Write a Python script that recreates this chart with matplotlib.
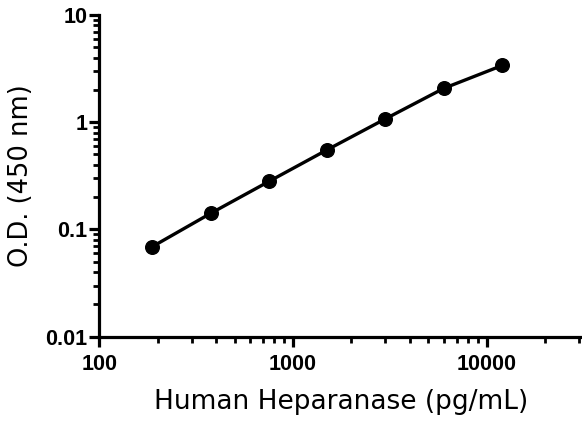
import matplotlib
matplotlib.use("Agg")
import matplotlib.pyplot as plt
from matplotlib.ticker import LogLocator, FixedLocator, NullFormatter, FixedFormatter

conc = [187.5, 375, 750, 1500, 3000, 6000, 12000]
od = [0.069, 0.141, 0.280, 0.553, 1.076, 2.07, 3.38]
x_ticks = [100, 1000, 10000]
x_tick_labels = ["100", "1000", "10000"]
y_ticks = [0.01, 0.1, 1, 10]
y_tick_labels = ["0.01", "0.1", "1", "10"]

fig = plt.figure(figsize=(5.82, 4.22), dpi=100)
ax = fig.add_axes([0.1706, 0.2022, 0.8294, 0.7623])

ax.plot(conc, od, color="black", lw=2.4, marker="o", ms=9.8, zorder=3, clip_on=False)

ax.set_xscale("log")
ax.set_yscale("log")
ax.set_xlim(100, 31000)
ax.set_ylim(0.01, 10)

ax.xaxis.set_major_locator(FixedLocator(x_ticks))
ax.xaxis.set_major_formatter(FixedFormatter(x_tick_labels))
ax.yaxis.set_major_locator(FixedLocator(y_ticks))
ax.yaxis.set_major_formatter(FixedFormatter(y_tick_labels))
ax.xaxis.set_minor_locator(LogLocator(base=10, subs=range(2, 10), numticks=20))
ax.yaxis.set_minor_locator(LogLocator(base=10, subs=range(2, 10), numticks=20))
ax.xaxis.set_minor_formatter(NullFormatter())
ax.yaxis.set_minor_formatter(NullFormatter())

for s in ["top", "right"]:
    ax.spines[s].set_visible(False)
for s in ["left", "bottom"]:
    ax.spines[s].set_linewidth(2.3)

ax.tick_params(which="major", direction="out", length=7.5, width=2.3)
ax.tick_params(which="minor", direction="out", length=4.3, width=2.0)
ax.tick_params(axis="x", which="major", pad=5)
ax.tick_params(axis="y", which="major", pad=1)

for lab in ax.get_xticklabels() + ax.get_yticklabels():
    lab.set_fontfamily(["Liberation Sans", "DejaVu Sans"])
    lab.set_fontweight("bold")
    lab.set_fontsize(15.5)

ax.set_xlabel("Human Heparanase (pg/mL)", fontsize=19, family=["DejaVu Sans"], labelpad=10)
ax.set_ylabel("O.D. (450 nm)", fontsize=18.5, family=["DejaVu Sans"], labelpad=8)

fig.savefig("out.png", dpi=100)
